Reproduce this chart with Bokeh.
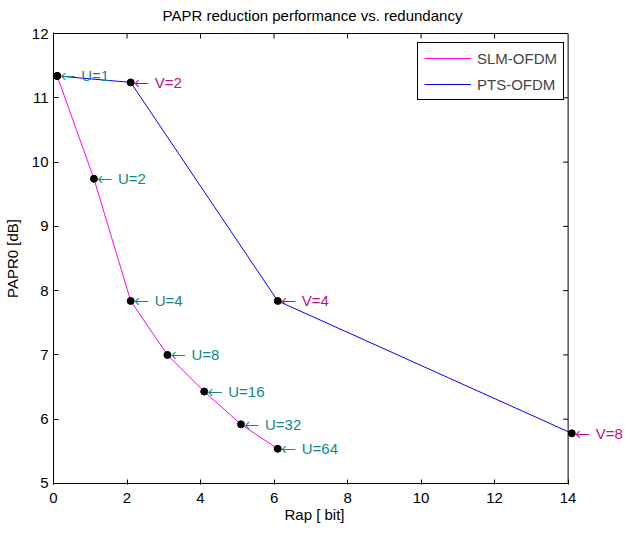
import math
from bokeh.plotting import figure
from bokeh.models import (Range1d, FixedTicker, ColumnDataSource, Title,
                          LabelSet, Legend, LegendItem)
from bokeh.core.properties import value
from bokeh.embed import file_html
from bokeh.resources import INLINE

# ---- data ----
slm_x = [0.1, 1.1, 2.1, 3.1, 4.1, 5.1, 6.1]
slm_y = [11.34, 9.74, 7.84, 7.00, 6.43, 5.92, 5.54]
slm_labels = ["U=1", "U=2", "U=4", "U=8", "U=16", "U=32", "U=64"]

pts_x = [0.1, 2.1, 6.1, 14.1]
pts_y = [11.34, 11.24, 7.84, 5.78]
pts_label_x = [2.1, 6.1, 14.1]
pts_label_y = [11.24, 7.84, 5.78]
pts_labels = ["V=2", "V=4", "V=8"]

x_ticks = [0, 2, 4, 6, 8, 10, 12, 14]
y_ticks = [5, 6, 7, 8, 9, 10, 11, 12]

FONT = "Liberation Sans"
ARROW_FONT = "Noto Sans CJK SC"
U_COLOR = "#118888"
V_COLOR = "#BB1188"

W, H = 627, 524
LEFT = 47
BOX_RIGHT = 567          # canvas x of the right edge of the axes box
px_per_unit = (BOX_RIGHT - LEFT) / (x_ticks[-1] - x_ticks[0])
x_end = x_ticks[0] + (W - LEFT) / px_per_unit
eps = 0.016

p = figure(width=W, height=H, output_backend="svg", toolbar_location=None,
           x_range=Range1d(x_ticks[0], x_end),
           y_range=Range1d(y_ticks[0] - eps, y_ticks[-1] + eps),
           min_border_left=LEFT, min_border_right=0, min_border_top=32,
           min_border_bottom=0)
p.grid.visible = False
p.outline_line_color = None
p.background_fill_color = "white"
p.border_fill_color = "white"

# title (offset so it is centred on the axes box)
t = Title(text="PAPR reduction performance vs. redundancy", align="left",
          offset=109, standoff=13, vertical_align="top",
          text_font=FONT, text_font_size="15px", text_font_style="normal",
          text_color="black")
p.add_layout(t, "above")

# axes
xa = p.xaxis[0]
ya = p.yaxis[0]
for ax, ticks in ((xa, x_ticks), (ya, y_ticks)):
    ax.ticker = FixedTicker(ticks=ticks)
    ax.major_tick_in = 5
    ax.major_tick_out = 0
    ax.minor_tick_line_color = None
    ax.major_tick_line_color = "black"
    ax.major_label_text_font = FONT
    ax.major_label_text_font_size = "15px"
    ax.major_label_text_color = "black"
xa.axis_line_color = None
xa.major_label_standoff = 8
ya.axis_line_color = "black"
ya.major_label_standoff = 5
ya.axis_label = "PAPR0 [dB]"
ya.axis_label_standoff = 8
ya.axis_label_text_font = FONT
ya.axis_label_text_font_size = "15px"
ya.axis_label_text_font_style = "normal"
ya.axis_label_text_color = "black"

xl = Title(text="Rap [ bit]", align="left", offset=231, standoff=0,
           vertical_align="top", text_font=FONT, text_font_size="15px",
           text_font_style="normal", text_color="black")
p.add_layout(xl, "below")

# axes box and mirrored inward ticks on top / right
p.quad(left=x_ticks[0], right=x_ticks[-1], bottom=y_ticks[0], top=y_ticks[-1],
       fill_color=None, line_color="black", line_width=1)
p.ray(x=x_ticks[1:-1], y=[y_ticks[-1]] * (len(x_ticks) - 2), length=5,
      length_units="screen", angle=-math.pi / 2, line_color="black")
p.ray(x=[x_ticks[-1]] * (len(y_ticks) - 2), y=y_ticks[1:-1], length=5,
      length_units="screen", angle=math.pi, line_color="black")

# series
r_slm = p.line(slm_x, slm_y, line_color="#FF00FF", line_width=1)
r_pts = p.line(pts_x, pts_y, line_color="#0000FF", line_width=1)
p.scatter(slm_x, slm_y, size=7, color="black")
p.scatter(pts_x, pts_y, size=7, color="black")

src_u = ColumnDataSource(dict(x=slm_x, y=slm_y, t=slm_labels,
                              a=["\u2190"] * len(slm_labels)))
src_v = ColumnDataSource(dict(x=pts_label_x, y=pts_label_y, t=pts_labels,
                              a=["\u2190"] * len(pts_labels)))
for src, col in ((src_u, U_COLOR), (src_v, V_COLOR)):
    p.add_layout(LabelSet(x="x", y="y", text="a", source=src, x_offset=3,
                          text_align="left", text_baseline="middle",
                          text_font=value(ARROW_FONT), text_font_size="15px",
                          text_color=col))
    p.add_layout(LabelSet(x="x", y="y", text="t", source=src, x_offset=24,
                          text_align="left", text_baseline="middle",
                          text_font=value(FONT), text_font_size="15px",
                          text_color=col))

legend = Legend(items=[LegendItem(label="SLM-OFDM", renderers=[r_slm]),
                       LegendItem(label="PTS-OFDM", renderers=[r_pts])],
                location=(364, 384), padding=6, spacing=8,
                glyph_width=47, glyph_height=18, label_height=18,
                label_standoff=6, label_text_font=FONT,
                label_text_font_size="15px", border_line_color="black",
                border_line_alpha=1, background_fill_alpha=1)
p.add_layout(legend)

open("out.html", "w").write(file_html(p, INLINE))
